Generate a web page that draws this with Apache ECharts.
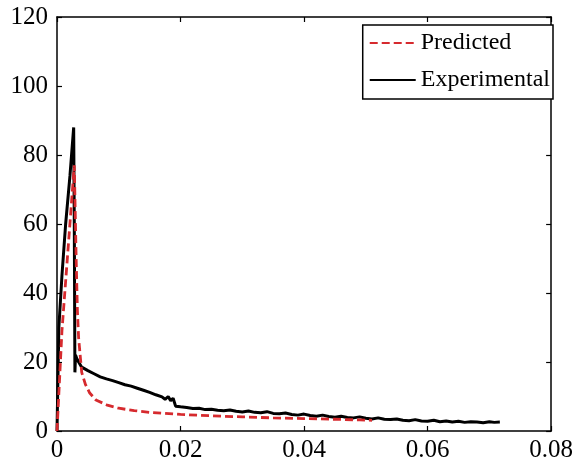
<!DOCTYPE html>
<html>
<head>
<meta charset="utf-8">
<script src="https://cdn.jsdelivr.net/npm/echarts@6/dist/echarts.min.js"></script>
<style>
  html, body { margin: 0; padding: 0; background: #fff; }
  #chart { width: 576px; height: 463px; }
</style>
</head>
<body>
<div id="chart"></div>
<script>
var xTicks = [0, 0.02, 0.04, 0.06, 0.08];
var yTicks = [0, 20, 40, 60, 80, 100, 120];

// Experimental (black, noisy)
var expX = [0, 0.0003, 0.0008, 0.0014, 0.0021, 0.0027, 0.0028, 0.0029, 0.0030, 0.0032, 0.0035, 0.0040,
    0.005, 0.006, 0.007, 0.008, 0.009, 0.010, 0.011, 0.012, 0.013, 0.014, 0.015, 0.016, 0.017,
    0.0175, 0.0180, 0.0184, 0.0188, 0.0192, 0.020, 0.021, 0.022, 0.023, 0.024, 0.025, 0.026,
    0.027, 0.028, 0.029, 0.030, 0.031, 0.032, 0.033, 0.034, 0.035, 0.036, 0.037, 0.038, 0.039,
    0.040, 0.041, 0.042, 0.043, 0.044, 0.045, 0.046, 0.047, 0.048, 0.049, 0.050, 0.051, 0.052,
    0.053, 0.054, 0.055, 0.056, 0.057, 0.058, 0.059, 0.060, 0.061, 0.062, 0.063, 0.064, 0.065,
    0.066, 0.067, 0.068, 0.069, 0.070, 0.0708, 0.0717];
var expY = [0, 30, 45, 60, 74, 88, 60, 17, 22, 21, 20, 18.5,
    17.5, 16.6, 15.7, 15.1, 14.6, 14.0, 13.4, 13.0, 12.4, 11.8, 11.2, 10.5, 9.9,
    9.2, 10.0, 8.8, 9.5, 7.2, 7.0, 6.8, 6.5, 6.6, 6.2, 6.3, 6.0,
    5.9, 6.1, 5.7, 5.5, 5.8, 5.4, 5.3, 5.6, 5.1, 5.0, 5.2, 4.8, 4.6,
    4.9, 4.5, 4.3, 4.6, 4.2, 4.0, 4.3, 3.9, 3.8, 4.1, 3.7, 3.5, 3.8,
    3.4, 3.3, 3.5, 3.1, 3.0, 3.3, 2.9, 2.8, 3.1, 2.7, 2.9, 2.6, 2.8,
    2.5, 2.7, 2.6, 2.4, 2.7, 2.5, 2.6];

// Predicted (red, dashed)
var predX = [0, 0.0008, 0.0028, 0.0031, 0.0033, 0.0035, 0.0038, 0.0040, 0.0046, 0.0053, 0.0063,
    0.008, 0.010, 0.0125, 0.015, 0.020, 0.025, 0.030, 0.035, 0.040, 0.045, 0.049, 0.051];
var predY = [0, 29, 77, 50, 35, 27, 21, 17, 13.5, 11, 9,
    7.6, 6.6, 5.9, 5.4, 4.8, 4.4, 4.1, 3.8, 3.6, 3.4, 3.2, 3.1];

function pairs(xs, ys) {
    var out = [];
    for (var i = 0; i < xs.length; i++) out.push([xs[i], ys[i]]);
    return out;
}

var font = '"Liberation Serif", "Times New Roman", serif';
var chart = echarts.init(document.getElementById('chart'));

var baseX = {
    type: 'value',
    min: xTicks[0],
    max: xTicks[xTicks.length - 1],
    interval: 0.02,
    splitLine: { show: false },
    axisLine: { onZero: false, lineStyle: { color: '#000', width: 1.5 } },
    axisTick: { inside: true, length: 5, lineStyle: { color: '#000', width: 1.2 } }
};
var baseY = {
    type: 'value',
    min: yTicks[0],
    max: yTicks[yTicks.length - 1],
    interval: 20,
    splitLine: { show: false },
    axisLine: { onZero: false, lineStyle: { color: '#000', width: 1.5 } },
    axisTick: { inside: true, length: 5, lineStyle: { color: '#000', width: 1.2 } }
};

var option = {
    animation: false,
    backgroundColor: '#fff',
    grid: { left: 57, right: 18, top: 17, bottom: 32 },
    legend: {
        orient: 'vertical',
        right: 23,
        top: 25,
        data: [
            { name: 'Predicted', itemStyle: { opacity: 0 } },
            { name: 'Experimental', itemStyle: { opacity: 0 } }
        ],
        itemWidth: 46,
        itemHeight: 14,
        itemGap: 13,
        padding: [6, 3, 7, 6],
        borderColor: '#000',
        borderWidth: 1.5,
        backgroundColor: '#fff',
        textStyle: { fontFamily: font, fontSize: 24, color: '#000' }
    },
    xAxis: [
        Object.assign({}, baseX, {
            position: 'bottom',
            axisLabel: {
                fontFamily: font, fontSize: 25, color: '#000', margin: 7,
                formatter: function (v) { return String(+v.toFixed(2)); }
            }
        }),
        Object.assign({}, baseX, { position: 'top', axisLabel: { show: false } })
    ],
    yAxis: [
        Object.assign({}, baseY, {
            position: 'left',
            axisLabel: { fontFamily: font, fontSize: 25, color: '#000', margin: 9 }
        }),
        Object.assign({}, baseY, { position: 'right', axisLabel: { show: false } })
    ],
    series: [
        {
            name: 'Predicted',
            type: 'line',
            data: pairs(predX, predY),
            symbol: 'none',
            smooth: false,
            z: 3,
            lineStyle: { color: '#d62a2e', width: 2.8, type: [8, 4] },
            itemStyle: { color: '#d62a2e' }
        },
        {
            name: 'Experimental',
            type: 'line',
            data: pairs(expX, expY),
            symbol: 'none',
            smooth: false,
            z: 2,
            lineStyle: { color: '#000', width: 3 },
            itemStyle: { color: '#000' }
        }
    ]
};

option && chart.setOption(option);
</script>
</body>
</html>
